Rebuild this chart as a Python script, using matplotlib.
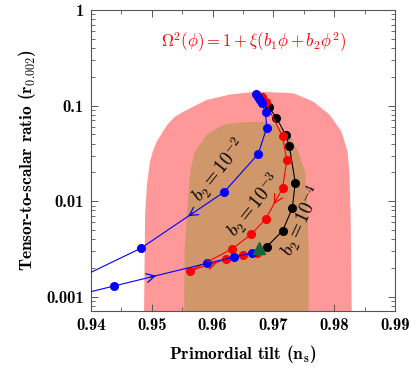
import numpy as np
import matplotlib
matplotlib.use('Agg')
import matplotlib.pyplot as plt

plt.rcParams['mathtext.fontset'] = 'cm'
plt.rcParams['font.family'] = 'DejaVu Serif'

# ---- confidence regions (n_s, r) boundaries ----
outer_ns = [0.9487, 0.9489, 0.9492, 0.9497, 0.9502, 0.9508, 0.9525, 0.9537, 0.9552,
            0.9590, 0.9629, 0.9662, 0.9678, 0.9733, 0.9766, 0.9793, 0.9812, 0.9822,
            0.9825, 0.9827, 0.9829]
outer_r = [0.0005, 0.00717, 0.01477, 0.02589, 0.0336, 0.04194, 0.06267, 0.0755, 0.08634,
           0.1144, 0.1306, 0.1377, 0.1397, 0.1345, 0.1099, 0.0797, 0.05333, 0.03295,
           0.02035, 0.00717, 0.0005]
inner_ns = [0.9553, 0.9554, 0.9560, 0.9563, 0.9571, 0.9590, 0.9616, 0.9645,
            0.9683, 0.9705, 0.9727, 0.9741, 0.9752, 0.9755, 0.9758, 0.9758]
inner_r = [0.0005, 0.00309, 0.01161, 0.02035, 0.03295, 0.04927, 0.06267, 0.06654,
           0.0679, 0.06267, 0.04927, 0.03295, 0.02035, 0.01161, 0.00309, 0.0005]

# ---- model curves ----
# b2 = 1e-2 (two branches, leaving and re-entering on the left)
b2m2_up_ns = [0.9671, 0.9674, 0.9678, 0.9681, 0.9687, 0.9689, 0.9675, 0.9619, 0.9482, 0.9360]
b2m2_up_r = [0.1313, 0.1239, 0.1144, 0.1057, 0.0857, 0.0587, 0.0312, 0.01248, 0.003216, 0.00136]
b2m2_lo_ns = [0.9360, 0.9438, 0.9591, 0.9636, 0.9665]
b2m2_lo_r = [0.00098, 0.001297, 0.002241, 0.002608, 0.00287]
# b2 = 1e-3
b2m3_ns = [0.9681, 0.9687, 0.9715, 0.9722, 0.9715, 0.9687, 0.9663, 0.9632,
           0.9563, 0.9622, 0.9650, 0.9673]
b2m3_r = [0.123, 0.1078, 0.04752, 0.02678, 0.01358, 0.006466, 0.004484, 0.003162,
          0.001875, 0.002468, 0.002704, 0.002891]
# b2 = 1e-4
b2m4_ns = [0.9681, 0.9692, 0.9705, 0.9720, 0.9726, 0.9736, 0.9731, 0.9715, 0.9689]
b2m4_r = [0.1193, 0.0974, 0.0747, 0.0496, 0.0381, 0.01561, 0.00843, 0.00488, 0.00334]
# reference point
tri_ns = [0.9677]
tri_r = [0.00324]

xticks = [0.94, 0.95, 0.96, 0.97, 0.98, 0.99]
yticks = [0.001, 0.01, 0.1, 1]
ytick_labels = ['0.001', '0.01', '0.1', '1']

fig = plt.figure(figsize=(4.18, 3.70), dpi=100)
ax = fig.add_axes([0.2177, 0.1595, 0.7273, 0.8135])
ax.set_yscale('log')
ax.set_xlim(0.94, 0.99)
ax.set_ylim(0.00071, 1)

ax.fill(outer_ns, outer_r, color='#ff9999', lw=0, zorder=1)
ax.fill(inner_ns, inner_r, color='#cf976a', lw=0, zorder=2)

ax.plot(b2m4_ns, b2m4_r, '-o', color='black', lw=0.8, ms=5.5, zorder=3)
ax.plot(b2m3_ns, b2m3_r, '-o', color='red', lw=0.8, ms=5.5, zorder=4)
ax.plot(b2m2_up_ns, b2m2_up_r, '-o', color='blue', lw=0.8, ms=5.5, zorder=5)
ax.plot(b2m2_lo_ns, b2m2_lo_r, '-o', color='blue', lw=0.8, ms=5.5, zorder=5)
ax.plot(tri_ns, tri_r, '^', color='#17683a', ms=9, zorder=6)


def mid_arrow(xs, ys, i, color, frac=0.5):
    # arrow head placed along segment i -> i+1
    x0, x1 = xs[i], xs[i + 1]
    l0, l1 = np.log10(ys[i]), np.log10(ys[i + 1])
    xa = x0 + (x1 - x0) * (frac - 0.06)
    xb = x0 + (x1 - x0) * (frac + 0.06)
    ya = 10 ** (l0 + (l1 - l0) * (frac - 0.06))
    yb = 10 ** (l0 + (l1 - l0) * (frac + 0.06))
    ax.annotate('', xy=(xb, yb), xytext=(xa, ya), zorder=7,
                arrowprops=dict(arrowstyle='->,head_length=0.6,head_width=0.32',
                                color=color, lw=0.9))


mid_arrow(b2m2_up_ns, b2m2_up_r, 7, 'blue', 0.4)
mid_arrow(b2m2_lo_ns, b2m2_lo_r, 1, 'blue', 0.42)
mid_arrow(b2m3_ns, b2m3_r, 4, 'red', 0.45)
mid_arrow(b2m3_ns, b2m3_r, 8, 'red', 0.7)

ax.text(0.9611, 0.0212, r'$b_2 = 10^{-2}$', rotation=51, fontsize=13.5,
        ha='center', va='center', zorder=8)
ax.text(0.9668, 0.00913, r'$b_2 = 10^{-3}$', rotation=51, fontsize=13.5,
        ha='center', va='center', zorder=8)
ax.text(0.9747, 0.0062, r'$b_2 = 10^{-4}$', rotation=65, fontsize=13.5,
        ha='center', va='center', zorder=8)

ax.text(0.533, 0.894, r'$\Omega^2(\phi) = 1+\xi(b_1\phi+b_2\phi^2)$', color='red',
        fontsize=12, ha='center', va='center', transform=ax.transAxes)

ax.set_xticks(xticks)
ax.set_xticklabels([f'{v:.2f}' for v in xticks])
ax.set_xticks(np.arange(0.945, 0.99, 0.01), minor=True)
ax.set_yticks(yticks)
ax.set_yticklabels(ytick_labels)
for lab in ax.get_xticklabels() + ax.get_yticklabels():
    lab.set_fontfamily('cmb10')
    lab.set_fontsize(12)

ax.tick_params(which='both', direction='in', top=True, right=True, color='#555555')
ax.tick_params(which='major', length=5, width=0.7, pad=5)
ax.tick_params(which='minor', length=3, width=0.6)
for s in ax.spines.values():
    s.set_color('#555555')
    s.set_linewidth(0.8)

ax.set_xlabel(r'Primordial tilt ($\mathbf{n_s}$)', fontfamily='cmb10', fontsize=12.5, labelpad=7)
ax.set_ylabel(r'Tensor-to-scalar ratio ($\mathbf{r_{0.002}}$)', fontfamily='cmb10',
              fontsize=12.5, labelpad=6)

fig.savefig('out.png', dpi=100)
